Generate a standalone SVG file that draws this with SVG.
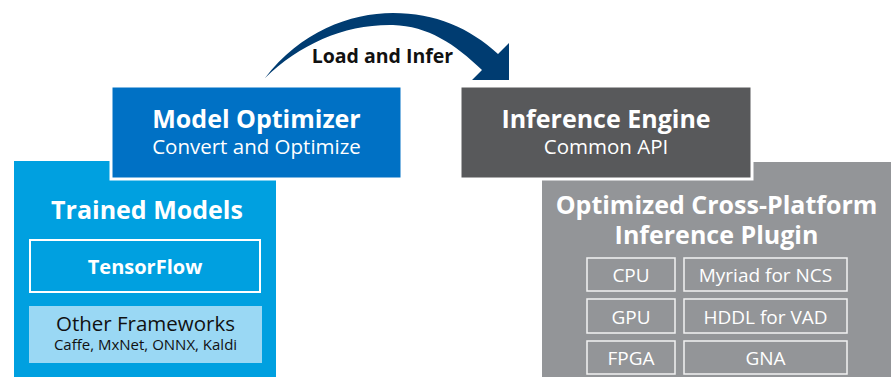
<svg xmlns="http://www.w3.org/2000/svg" width="891" height="377" viewBox="0 0 891 377">
<style>
text{font-family:"Open Sans","Noto Sans","DejaVu Sans",sans-serif;text-anchor:middle}
.w{fill:#ffffff}
.b{font-weight:700}
.t1{font-size:25px}
.t2{font-size:19px}
.sub{font-size:20.5px}
.dark{fill:#111111}
.pbox{fill:none;stroke:#f2f2f2;stroke-width:1.5}
</style>
<rect width="891" height="377" fill="#ffffff"/>
<g id="trained-models">
<rect x="14" y="161" width="262" height="220" fill="#00a0e0"/>
</g>
<g id="plugin">
<rect x="542" y="162" width="352" height="220" fill="#939598"/>
<text class="w b t1" x="716.5" y="214">Optimized Cross-Platform</text>
<text class="w b t1" x="716.5" y="244">Inference Plugin</text>
</g>
<g id="model-optimizer">
<rect x="111" y="86" width="291" height="93" fill="#0071c5" stroke="#ffffff" stroke-width="3"/>
<text class="w b t1" x="256.5" y="128">Model Optimizer</text>
<text class="w sub" x="256.5" y="154">Convert and Optimize</text>
</g>
<g id="inference-engine">
<rect x="460" y="86" width="292" height="93" fill="#58595b" stroke="#ffffff" stroke-width="3"/>
<text class="w b t1" x="606" y="128">Inference Engine</text>
<text class="w sub" x="606" y="154">Common API</text>
</g>
<g id="trained-models-title">
<text class="w b t1" x="147" y="219">Trained Models</text>
</g>
<g id="tensorflow">
<rect x="30" y="240" width="230" height="52" fill="none" stroke="#ffffff" stroke-width="2"/>
<text class="w b" x="145" y="274" font-size="20">TensorFlow</text>
</g>
<g id="other-frameworks">
<rect x="29" y="306" width="233" height="57" fill="#9ad8f4"/>
<text class="dark" x="145.5" y="331" font-size="20.5">Other Frameworks</text>
<text class="dark" x="145.5" y="350" font-size="15">Caffe, MxNet, ONNX, Kaldi</text>
</g>
<g id="cpu"><rect class="pbox" x="587" y="258" width="88" height="33"/><text class="w t2" x="631" y="282">CPU</text></g>
<g id="myriad"><rect class="pbox" x="684" y="258" width="163" height="33"/><text class="w t2" x="765.5" y="282">Myriad for NCS</text></g>
<g id="gpu"><rect class="pbox" x="587" y="299" width="88" height="34"/><text class="w t2" x="631" y="324">GPU</text></g>
<g id="hddl"><rect class="pbox" x="684" y="299" width="163" height="34"/><text class="w t2" x="765.5" y="324">HDDL for VAD</text></g>
<g id="fpga"><rect class="pbox" x="587" y="341" width="88" height="33"/><text class="w t2" x="631" y="365">FPGA</text></g>
<g id="gna"><rect class="pbox" x="684" y="341" width="163" height="33"/><text class="w t2" x="765.5" y="365">GNA</text></g>
<g id="connectors">
<path d="M265,78 C300,32 350,13 393,13 C435,13 470,28 498,54 L509,43 L509,80 L472,80 L482,70 C455,44 428,26 393,25 C345,24 300,44 265,78 Z" fill="#003c71"/>
<text class="dark b" x="382.5" y="63" font-size="19.5">Load and Infer</text>
</g>
</svg>
